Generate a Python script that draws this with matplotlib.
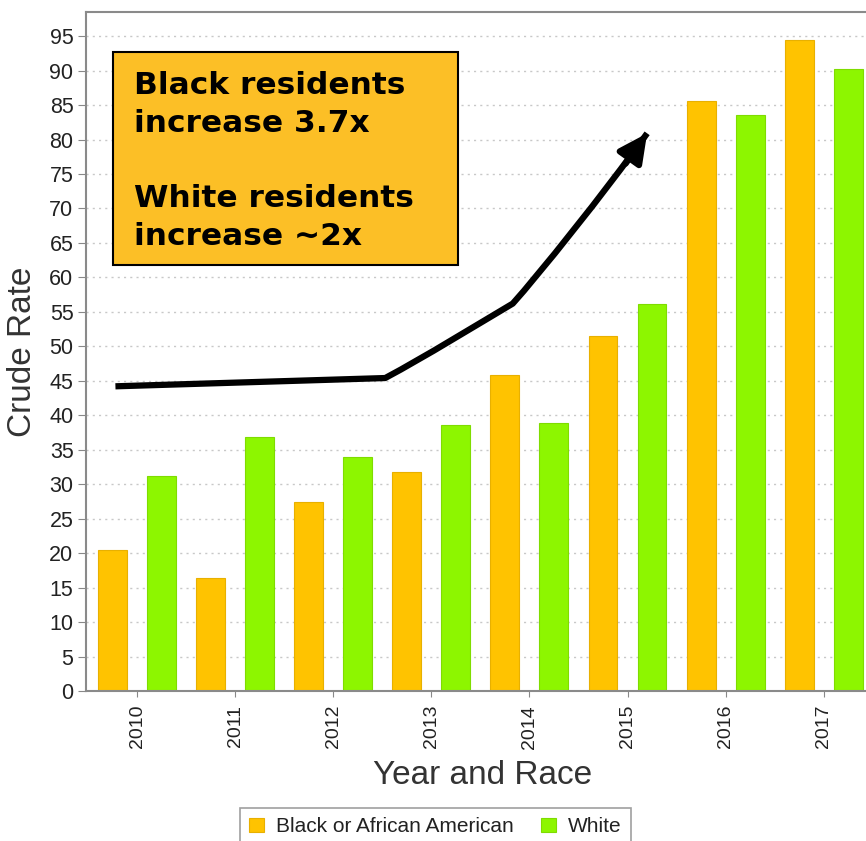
import matplotlib
matplotlib.use("Agg")
import matplotlib.pyplot as plt
import numpy as np
from matplotlib.path import Path
from matplotlib.patches import FancyArrowPatch, Rectangle, PathPatch

years = ["2010", "2011", "2012", "2013", "2014", "2015", "2016", "2017"]
black_rate = [20.5, 16.4, 27.4, 31.8, 45.9, 51.5, 85.6, 94.4]
white_rate = [31.2, 36.9, 33.9, 38.6, 38.9, 56.1, 83.6, 90.3]
series_names = ["Black or African American", "White"]
note_text = "Black residents\nincrease 3.7x\n\nWhite residents\nincrease ~2x"

# hand drawn trend arrow (data coords)
arrow_start = [(-0.22, 44.2), (2.53, 45.4)]
arrow_curve = [(2.95, 48.6), (3.45, 53.0), (3.83, 56.2),
               (4.10, 60.5), (4.75, 72.0), (5.20, 80.9)]
arrow_head_base = (4.98, 76.5)

orange = "#FFC300"
green = "#8DF600"
W, H = 866, 841

plt.rcParams['font.family'] = ['Liberation Sans', 'DejaVu Sans']
fig = plt.figure(figsize=(W / 100, H / 100), dpi=100)
ax = fig.add_axes([86 / W, 150 / H, (880 - 86) / W, (691 - 12) / H])

x = np.arange(len(years))
bw = 0.295
off = 0.25
ax.bar(x - off, black_rate, bw, color=orange, edgecolor="#E8B000", linewidth=0.8,
       label=series_names[0], zorder=2)
ax.bar(x + off, white_rate, bw, color=green, edgecolor="#7FDC00", linewidth=0.8,
       label=series_names[1], zorder=2)

ax.set_xlim(-0.52, (880 - 137) / 98.1)
ax.set_ylim(0, 98.5)
ax.set_yticks(np.arange(0, 100, 5))
ax.set_xticks(x)
ax.set_xticklabels(years, rotation=90, fontsize=14, color="#222222")
ax.tick_params(axis='y', labelsize=15.5, colors="#222222", length=6, color="#888888", pad=3)
ax.tick_params(axis='x', length=4, color="#888888", pad=6)
ax.yaxis.grid(True, linestyle=(0, (1.5, 3)), color="#C8C8C8", linewidth=1.0, zorder=0)
ax.set_axisbelow(True)
for s in ["left", "bottom", "top"]:
    ax.spines[s].set_color("#8A8A8A")
    ax.spines[s].set_linewidth(1.5)
ax.spines["right"].set_visible(False)

ax.set_ylabel("Crude Rate", fontsize=24, color="#333333", labelpad=8)
ax.set_xlabel("Year and Race", fontsize=24, color="#333333", labelpad=8)

# annotation box
box = Rectangle((113 / W, 1 - 265 / H), (458 - 113) / W, (265 - 52) / H,
                transform=fig.transFigure, facecolor="#FCBF26", edgecolor="black",
                linewidth=1.5, zorder=5)
fig.patches.append(box)
fig.text(134 / W, 1 - 71 / H, note_text, fontsize=22.5, fontweight="bold",
         family="DejaVu Sans", va="top", ha="left", linespacing=1.38, zorder=6)

verts = arrow_start + arrow_curve
codes = [Path.MOVETO, Path.LINETO] + [Path.CURVE4] * 6
ax.add_patch(PathPatch(Path(verts, codes), fill=False, edgecolor="black",
                       linewidth=4.5, joinstyle="round", capstyle="butt", zorder=6))
head = FancyArrowPatch(arrow_head_base, arrow_curve[-1],
                       arrowstyle="-|>,head_length=0.5,head_width=0.25",
                       mutation_scale=34, color="black", linewidth=4.5,
                       shrinkA=0, shrinkB=0, zorder=6)
ax.add_patch(head)

leg = fig.legend(loc="upper left", bbox_to_anchor=(240 / W, 1 - 808 / H), ncol=2,
                 fontsize=15, frameon=True, fancybox=False, edgecolor="#888888",
                 handlelength=0.7, handleheight=0.7, handletextpad=0.6,
                 columnspacing=1.3, borderpad=0.45, borderaxespad=0)
leg.get_frame().set_linewidth(1.2)
for t in leg.get_texts():
    t.set_color("#222222")

fig.savefig("out.png", dpi=100)
